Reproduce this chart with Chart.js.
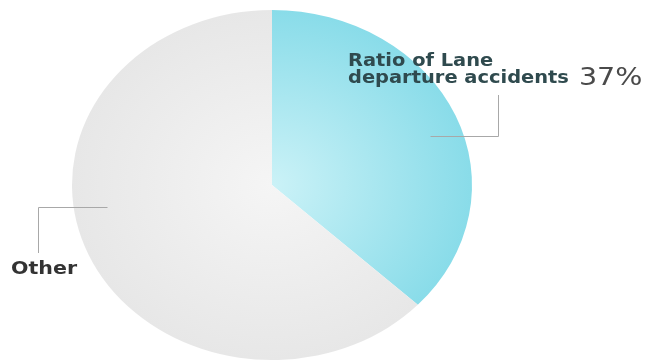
<!DOCTYPE html>
<html>
<head>
<meta charset="utf-8">
<script src="https://cdn.jsdelivr.net/npm/chart.js@4/dist/chart.umd.min.js"></script>
<style>
  html, body { margin: 0; padding: 0; background: #fff; }
  #wrap { width: 664px; height: 360px; }
</style>
</head>
<body>
<div id="wrap"><canvas id="chart"></canvas></div>
<script>
// data
const labels = ['Ratio of Lane departure accidents', 'Other'];
const values = [37, 63];
const labelLines = [['Ratio of Lane', 'departure accidents'], ['Other']];
const innerColors = ['#cbf2f7', '#f5f5f5'];
const outerColors = ['#89dce9', '#e7e7e7'];

// the whole picture is stretched sideways: pie is an ellipse, text is wide
const stretchX = 200 / 175;

function sliceGradient(ctx) {
    const chart = ctx.chart;
    const a = chart.chartArea;
    const i = ctx.dataIndex;
    if (!a) return outerColors[i];
    const cx = (a.left + a.right) / 2, cy = (a.top + a.bottom) / 2;
    const r = Math.min(a.right - a.left, a.bottom - a.top) / 2;
    const g = chart.ctx.createRadialGradient(cx, cy, 0, cx, cy, r);
    g.addColorStop(0, innerColors[i]);
    g.addColorStop(1, outerColors[i]);
    return g;
}

const ellipsePlugin = {
    id: 'ellipse',
    beforeDatasetsDraw(chart) {
        const arc = chart.getDatasetMeta(0).data[0];
        const c = chart.ctx;
        c.save();
        c.translate(arc.x, arc.y);
        c.scale(stretchX, 1);
        c.translate(-arc.x, -arc.y);
    },
    afterDatasetsDraw(chart) {
        chart.ctx.restore();
    }
};

// draw text widened the same way as the pie
function wideText(c, text, x, y) {
    c.save();
    c.translate(x, y);
    c.scale(stretchX, 1);
    c.fillText(text, 0, 0);
    const w = c.measureText(text).width * stretchX;
    c.restore();
    return w;
}

const calloutPlugin = {
    id: 'callouts',
    afterDraw(chart) {
        const c = chart.ctx;
        const arcs = chart.getDatasetMeta(0).data;
        const cx = arcs[0].x, cy = arcs[0].y, r = arcs[0].outerRadius;
        const at = (fx, fy) => [Math.round(cx + fx * r * stretchX) + 0.5, Math.round(cy + fy * r) + 0.5];
        c.save();
        c.strokeStyle = '#a8a8a8';
        c.lineWidth = 1;

        // leader for the cyan slice
        let p = at(0.79, -0.28);
        c.beginPath();
        c.moveTo(p[0], p[1]);
        c.lineTo(498.5, p[1]);
        c.lineTo(498.5, 95);
        c.stroke();

        c.textBaseline = 'alphabetic';
        c.textAlign = 'left';
        c.fillStyle = '#2f4a4e';
        c.font = 'bold 17px "DejaVu Sans"';
        wideText(c, labelLines[0][0], 348, 66);
        const w = wideText(c, labelLines[0][1], 348, 83);
        c.fillStyle = '#4a4a4a';
        c.font = '25px "DejaVu Sans"';
        wideText(c, values[0] + '%', 348 + w + 10, 85);

        // leader for the grey slice
        p = at(-0.825, 0.126);
        c.beginPath();
        c.moveTo(p[0], p[1]);
        c.lineTo(38.5, p[1]);
        c.lineTo(38.5, 253);
        c.stroke();

        c.fillStyle = '#333';
        c.font = 'bold 18px "DejaVu Sans"';
        wideText(c, labelLines[1][0], 11, 274);
        c.restore();
    }
};

new Chart(document.getElementById('chart'), {
    type: 'pie',
    data: {
        labels: labels,
        datasets: [{
            data: values,
            backgroundColor: sliceGradient,
            borderWidth: 0
        }]
    },
    options: {
        responsive: true,
        maintainAspectRatio: false,
        animation: false,
        layout: { padding: { left: 0, right: 120, top: 10, bottom: 0 } },
        plugins: {
            legend: { display: false },
            tooltip: { enabled: false }
        }
    },
    plugins: [ellipsePlugin, calloutPlugin]
});
</script>
</body>
</html>
